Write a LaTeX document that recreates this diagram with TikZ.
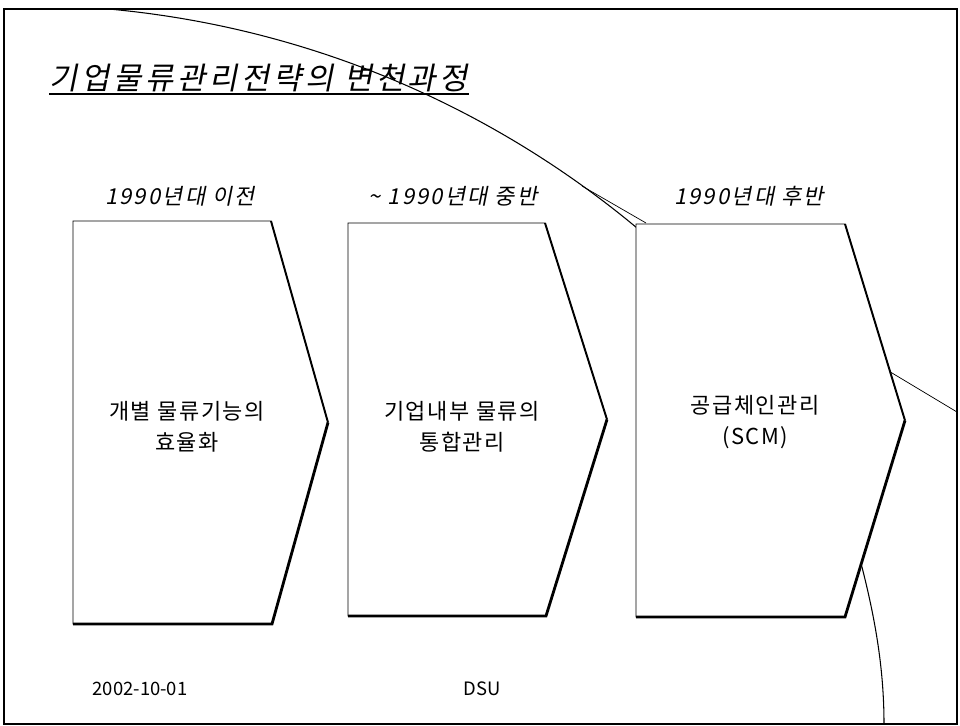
\documentclass[tikz,border=0pt]{standalone}
\usepackage{fontspec}
\newfontfamily\kr{Noto Sans CJK KR}
\newfontfamily\krbox[LetterSpace=7]{Noto Sans CJK KR}
\newfontfamily\krit[FakeSlant=0.2, LetterSpace=10]{Noto Sans CJK KR}
\newfontfamily\krtitle[FakeSlant=0.2, LetterSpace=12]{Noto Sans CJK KR}
\usepackage{tikz}
\tikzstyle{frame} = [draw=black, line width=1.2pt]
\tikzstyle{deco} = [draw=black, line width=0.6pt]
\tikzstyle{chev} = [draw=black, fill=white, line width=0.5pt]
\tikzstyle{chevedge} = [draw=black, line width=1.6pt, line join=miter]
\tikzstyle{year} = [font=\krit\fontsize{12.5}{15}\selectfont, inner sep=0pt]
\tikzstyle{boxtext} = [align=center, font=\krbox\fontsize{12.5}{17.5}\selectfont, inner sep=0pt]
\tikzstyle{foot} = [font=\kr\fontsize{10.5}{12}\selectfont, inner sep=0pt]

\begin{document}
\begin{tikzpicture}[x=0.02cm, y=-0.02cm]
	\useasboundingbox (0,0) rectangle (960,726);
	\draw[frame] (4,9) rectangle (957,724);

	% template curves, behind the boxes
	\begin{scope}
		\clip (4,9) rectangle (700,232);
		\draw[deco] (20,970) circle[radius=965];
	\end{scope}
	\draw[deco, line width=0.4pt] (582,186) -- (646,223);
	\draw[deco, line width=0.4pt] (882,367) -- (957,412);
	\draw[deco] (858,552) .. controls (875,615) and (884,668) .. (884,724);

	% chevrons
	\foreach \l/\r/\tip/\t/\b/\br in {73/271/328/221/624/272, 348/545/607/223/616/546, 636/845/905/224/617/845}{
		\draw[chev] (\l,\t) -- (\r,\t) -- (\tip,{(\t+\b)/2}) -- (\br,\b) -- (\l,\b) -- cycle;
		\draw[chevedge, line width=1.1pt] (\r,\t) -- (\tip,{(\t+\b)/2});
		\draw[chevedge] (\tip,{(\t+\b)/2}) -- (\br,\b) -- (\l,\b);
	}

	\node[font=\krtitle\fontsize{17.5}{20}\selectfont, inner sep=0pt, anchor=west] (title) at (49,78) {기업물류관리전략의 변천과정};
	\draw[line width=1.1pt] ([yshift=-1pt]title.south west) -- ([yshift=-1pt]title.south east);

	\node[year] (yr1) at (180,196) {1990년대 이전};
	\node[year] (yr2) at (453,196) {\textasciitilde\ 1990년대 중반};
	\node[year] (yr3) at (749,196) {1990년대 후반};

	\node[boxtext] (txt1) at (187,427) {개별 물류기능의\\효율화};
	\node[boxtext] (txt2) at (462,427) {기업내부 물류의\\통합관리};
	\node[boxtext] (txt3) at (755,422) {공급체인관리\\(SCM)};

	\node[foot] (date) at (140,689) {2002-10-01};
	\node[foot] (dsu) at (482,689) {DSU};
\end{tikzpicture}
\end{document}
